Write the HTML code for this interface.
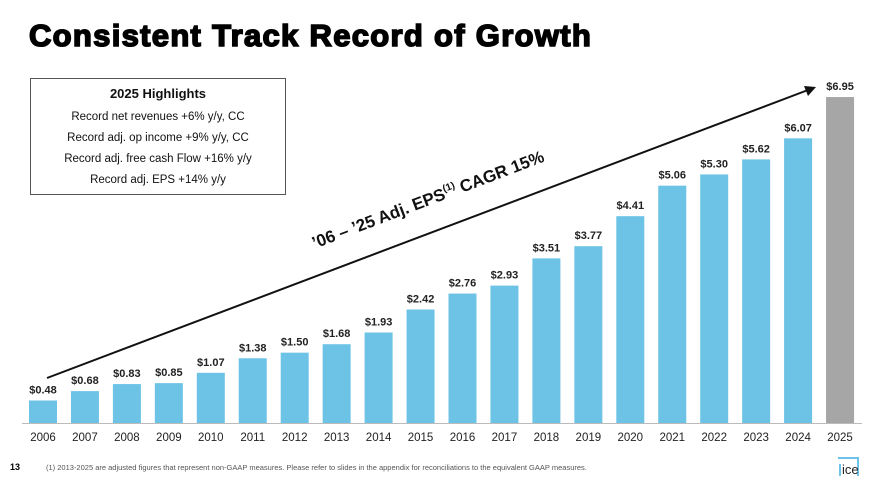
<!DOCTYPE html>
<html><head><meta charset="utf-8"><style>
body{margin:0;width:886px;height:488px;background:#fff;overflow:hidden;font-family:"Liberation Sans",Arial,sans-serif;position:relative}
.title{position:absolute;left:29px;top:18px;font-size:31px;font-weight:bold;color:#000;letter-spacing:1.3px;-webkit-text-stroke:1.6px #000}
.box{position:absolute;left:30px;top:78px;width:256px;height:117px;border:1px solid #555;box-sizing:border-box;text-align:center;font-size:11.5px;color:#111}
.box h3{margin:7px 0 6px;font-size:13px}
.box div{line-height:21px}
svg{position:absolute;left:0;top:0}
</style></head><body>
<div class="title">Consistent Track Record of Growth</div>
<div class="box">
<h3>2025 Highlights</h3>
<div>Record net revenues +6% y/y, CC</div>
<div>Record adj. op income +9% y/y, CC</div>
<div>Record adj. free cash Flow +16% y/y</div>
<div>Record adj. EPS +14% y/y</div>
</div>
<svg id="chart" width="886" height="488"></svg>
<div style="position:absolute;left:10px;top:462px;font-size:9px;font-weight:bold">13</div>
<div style="position:absolute;left:46px;top:463px;font-size:7.5px;color:#555">(1) 2013-2025 are adjusted figures that represent non-GAAP measures. Please refer to slides in the appendix for reconciliations to the equivalent GAAP measures.</div>
<div style="position:absolute;left:838px;top:457px;width:19px;height:17px;border-top:2px solid #6ec1e8;border-right:2px solid #6ec1e8"></div>
<div style="position:absolute;left:839px;top:464px;font-size:13px;color:#222;border-left:2px solid #6ec1e8;padding-left:1px;line-height:12px">ice</div>
<script>
const years=["2006","2007","2008","2009","2010","2011","2012","2013","2014","2015","2016","2017","2018","2019","2020","2021","2022","2023","2024","2025"];
const eps=[0.48,0.68,0.83,0.85,1.07,1.38,1.50,1.68,1.93,2.42,2.76,2.93,3.51,3.77,4.41,5.06,5.30,5.62,6.07,6.95];
const labels=["$0.48","$0.68","$0.83","$0.85","$1.07","$1.38","$1.50","$1.68","$1.93","$2.42","$2.76","$2.93","$3.51","$3.77","$4.41","$5.06","$5.30","$5.62","$6.07","$6.95"];
const svg=document.getElementById('chart');const NS="http://www.w3.org/2000/svg";
const base=423,scale=46.9,x0=43,step=41.95,bw=28;
const xs=i=>x0+i*step, ys=v=>base-v*scale;
function mk(t,a){const e=document.createElementNS(NS,t);for(const k in a)e.setAttribute(k,a[k]);svg.appendChild(e);return e;}
years.forEach((y,i)=>{
 const r=mk('rect',{x:xs(i)-bw/2,y:ys(eps[i]),width:bw,height:base-ys(eps[i]),fill:i==years.length-1?'#a6a6a6':'#6cc3e6'});
 
 
 const t=mk('text',{x:xs(i),y:ys(eps[i])-7,'text-anchor':'middle','font-size':'11','font-weight':'bold',fill:'#222'});t.textContent=labels[i];
 
 
 const yl=mk('text',{x:xs(i),y:441,'text-anchor':'middle','font-size':'11.5',fill:'#222'});yl.textContent=y;
 
 
});
const ax=mk('line',{x1:22,x2:862,y1:base+0.5,y2:base+0.5,stroke:'#bbb'});


const ar=mk('line',{x1:47,y1:378,x2:808,y2:90,stroke:'#111','stroke-width':'2'});


const ah=mk('polygon',{points:'816,87 804,86 808,96',fill:'#111'});


const ct=mk('text',{x:430,y:205,'text-anchor':'middle','font-size':'17','font-weight':'bold',fill:'#111',transform:'rotate(-20.8 430 205)'});
ct.innerHTML="’06 – ’25 Adj. EPS<tspan font-size='10' dy='-7'>(1)</tspan><tspan dy='7'> CAGR 15%</tspan>";


</script>
</body></html>
